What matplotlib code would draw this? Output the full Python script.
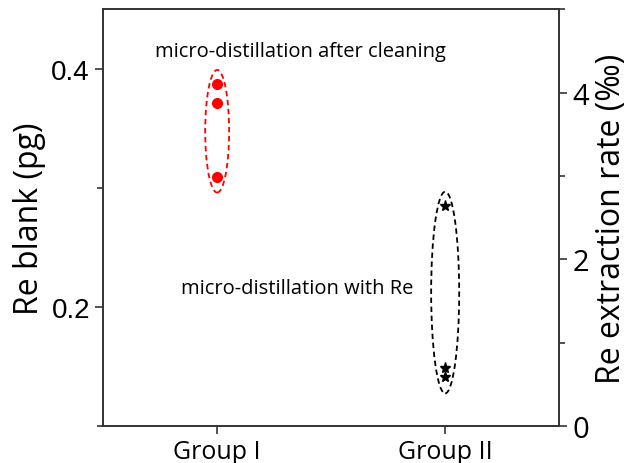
import numpy as np
import matplotlib.pyplot as plt
from matplotlib.patches import Ellipse
from matplotlib.ticker import MultipleLocator

plt.rcParams['font.family'] = ['Open Sans', 'DejaVu Sans']

groups = ['Group I', 'Group II']
blank_group1 = [0.387, 0.371, 0.309]     # Re blank (pg), micro-distillation after cleaning
extraction_group2 = [2.64, 0.69, 0.59]   # Re extraction rate (permil), micro-distillation with Re


def main():
    fig = plt.figure(figsize=(6.29, 4.64), dpi=100)
    ax = fig.add_axes([0.164, 0.08, 0.725, 0.898])
    ax2 = ax.twinx()

    x1 = np.full(len(blank_group1), 1.0)
    x2 = np.full(len(extraction_group2), 2.0)

    ax.plot(x1, blank_group1, 'o', color='red', markersize=7, zorder=3)
    ax2.plot(x2, extraction_group2, '*', color='black', markersize=8, zorder=3)

    # dashed rings around each group
    ax.add_patch(Ellipse((1.0, 0.3475), 0.105, 0.103, fill=False,
                         edgecolor='red', linestyle=(0, (3, 2)), linewidth=1.3))
    ax2.add_patch(Ellipse((2.0, 1.6), 0.123, 2.42, fill=False,
                          edgecolor='black', linestyle=(0, (3, 2)), linewidth=1.3))

    ax.text(1.364, 0.415, 'micro-distillation after cleaning', ha='center', va='center', fontsize=14.5)
    ax.text(1.349, 0.216, 'micro-distillation with Re', ha='center', va='center', fontsize=14.5)

    ax.set_xlim(0.5, 2.5)
    ax.set_xticks([1, 2])
    ax.set_xticklabels(groups, fontsize=18)

    ax.set_ylim(0.1, 0.45)
    ax.yaxis.set_major_locator(MultipleLocator(0.2))
    ax.yaxis.set_minor_locator(MultipleLocator(0.1))
    ax.set_ylabel('Re blank (pg)', fontsize=23)
    ax.tick_params(axis='y', labelsize=20)
    for lbl in ax.get_yticklabels():
        lbl.set_family('Liberation Sans')

    ax2.set_ylim(0, 5)
    ax2.yaxis.set_major_locator(MultipleLocator(2))
    ax2.yaxis.set_minor_locator(MultipleLocator(1))
    ax2.set_ylabel('Re extraction rate (‰)', fontsize=23)
    ax2.tick_params(axis='y', labelsize=21)

    for a in (ax, ax2):
        a.tick_params(which='major', direction='out', length=6, width=1.2, color='#333333')
        a.tick_params(which='minor', direction='out', length=4, width=1.2, color='#333333')
        for s in a.spines.values():
            s.set_linewidth(1.2)
            s.set_color('#333333')

    plt.savefig('out.png')


if __name__ == "__main__":
    main()
